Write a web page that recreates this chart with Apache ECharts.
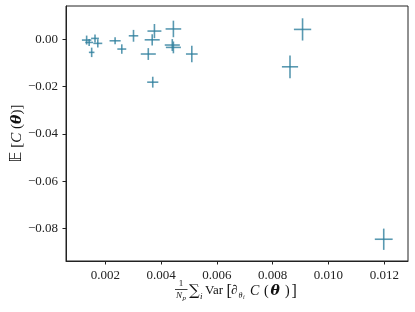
<!DOCTYPE html>
<html><head><meta charset="utf-8">
<script src="https://cdn.jsdelivr.net/npm/echarts@6/dist/echarts.min.js"></script>
<style>html,body{margin:0;padding:0;background:#fff}#c{width:415px;height:312px}</style>
</head><body><div id="c"></div>
<script>
// mean variance of gradient (x) and expected cost (y), with errors
const xVals = [0.00133,0.00163,0.00142,0.00173,0.00151,0.00235,0.00259,0.00301,0.00376,0.00368,0.00354,0.00370,0.00444,0.00440,0.00444,0.00510,0.00862,0.00907,0.01198];
const yVals = [-0.0003,0.0004,-0.0013,-0.0017,-0.0055,-0.0006,-0.0041,0.0015,0.0035,-0.0002,-0.0062,-0.0181,0.0044,-0.0024,-0.0034,-0.0062,-0.0116,0.0042,-0.0845];
const xErrs = [0.00017,0.00014,0.00014,0.00016,0.00010,0.00020,0.00016,0.00017,0.00025,0.00027,0.00027,0.00020,0.00028,0.00027,0.00027,0.00021,0.00029,0.00031,0.00032];
const yErrs = [0.0019,0.0017,0.0015,0.0017,0.0020,0.0015,0.0020,0.0025,0.0030,0.0024,0.0025,0.0023,0.0035,0.0025,0.0025,0.0035,0.0048,0.0047,0.0045];
const xTicks = [0.002,0.004,0.006,0.008,0.010,0.012];
const yTicks = [-0.08,-0.06,-0.04,-0.02,0.00];

const data = xVals.map((x,i)=>[x,yVals[i],xErrs[i],yErrs[i]]);
const col = 'rgba(47,128,158,0.8)';
const F = '"Liberation Serif", "DejaVu Serif", serif';
const chart = echarts.init(document.getElementById('c'), null, {renderer:'canvas'});
const txt = (x,y,s,opt={}) => ({type:'text', x, y, style:Object.assign({text:s, font:'13px '+F, fill:'#111', textVerticalAlign:'middle'}, opt)});
chart.setOption({
  animation:false,
  grid:{left:66,right:7,top:6,bottom:51,containLabel:false,outerBoundsMode:'none',show:true,borderColor:'#222',borderWidth:1,backgroundColor:'transparent'},
  xAxis:{type:'value',min:0.00059,max:0.01285,
    axisLine:{show:true,onZero:false,lineStyle:{color:'#222',width:1}},
    axisTick:{show:true,length:3.5,lineStyle:{color:'#222'},customValues:xTicks},
    axisLabel:{color:'#222',fontFamily:F,fontSize:13,margin:8,customValues:xTicks,formatter:v=>v.toFixed(3)},
    splitLine:{show:false}},
  yAxis:{type:'value',min:-0.0937,max:0.0141,
    axisLine:{show:true,onZero:false,lineStyle:{color:'#222',width:1}},
    axisTick:{show:true,length:3.5,lineStyle:{color:'#222'},customValues:yTicks},
    axisLabel:{color:'#222',fontFamily:F,fontSize:13,margin:8,customValues:yTicks,formatter:v=>(v<0?'\u2212':'')+Math.abs(v).toFixed(2)},
    splitLine:{show:false},
    name:'{bb|𝔼} [{it|C} ({b|θ})]',nameLocation:'middle',nameRotate:90,nameGap:41,nameMoveOverlap:false,
    nameTextStyle:{fontFamily:F,fontSize:15,color:'#111',rich:{bb:{fontFamily:'"DejaVu Sans", "Noto Sans", serif',fontSize:15},it:{fontFamily:F,fontStyle:'italic',fontSize:15},b:{fontFamily:'"DejaVu Serif", serif',fontStyle:'italic',fontWeight:'bold',fontSize:14}}}},
  series:[{type:'custom',data:data,
    renderItem:(params,api)=>{
      const x=api.value(0),y=api.value(1),ex=api.value(2),ey=api.value(3);
      const a=api.coord([x-ex,y]),b=api.coord([x+ex,y]);
      const c=api.coord([x,y-ey]),d=api.coord([x,y+ey]);
      const st={stroke:col,lineWidth:1.6};
      return {type:'group',children:[
        {type:'line',shape:{x1:a[0],y1:a[1],x2:b[0],y2:b[1]},style:st},
        {type:'line',shape:{x1:c[0],y1:c[1],x2:d[0],y2:d[1]},style:st}
      ]};
    }}],
  graphic:[
    txt(181,284,'1',{font:'9px '+F,textAlign:'center'}),
    {type:'line',shape:{x1:175,y1:289.5,x2:187.5,y2:289.5},style:{stroke:'#111',lineWidth:0.8}},
    txt(176,296,'N',{font:'italic 9px '+F}),
    txt(182.5,298,'p',{font:'italic 7px '+F}),
    txt(189,291,'∑',{font:'15px "DejaVu Serif", serif'}),
    txt(200,296.5,'i',{font:'italic 9px '+F}),
    txt(205,291,'Var',{font:'13px '+F}),
    txt(226.5,291.5,'[',{font:'16px '+F}),
    txt(231,291,'∂',{font:'italic 13px '+F}),
    txt(238.5,295.5,'θ',{font:'italic 8px '+F}),
    txt(243,297.5,'i',{font:'italic 6px '+F}),
    txt(250,291,'C',{font:'italic 14px '+F}),
    txt(264,291.5,'(',{font:'14px '+F}),
    txt(270.5,291,'θ',{font:'italic bold 14px "DejaVu Serif", serif'}),
    txt(285,291.5,')',{font:'14px '+F}),
    txt(291.5,291.5,']',{font:'16px '+F})
  ]
});
</script></body></html>
